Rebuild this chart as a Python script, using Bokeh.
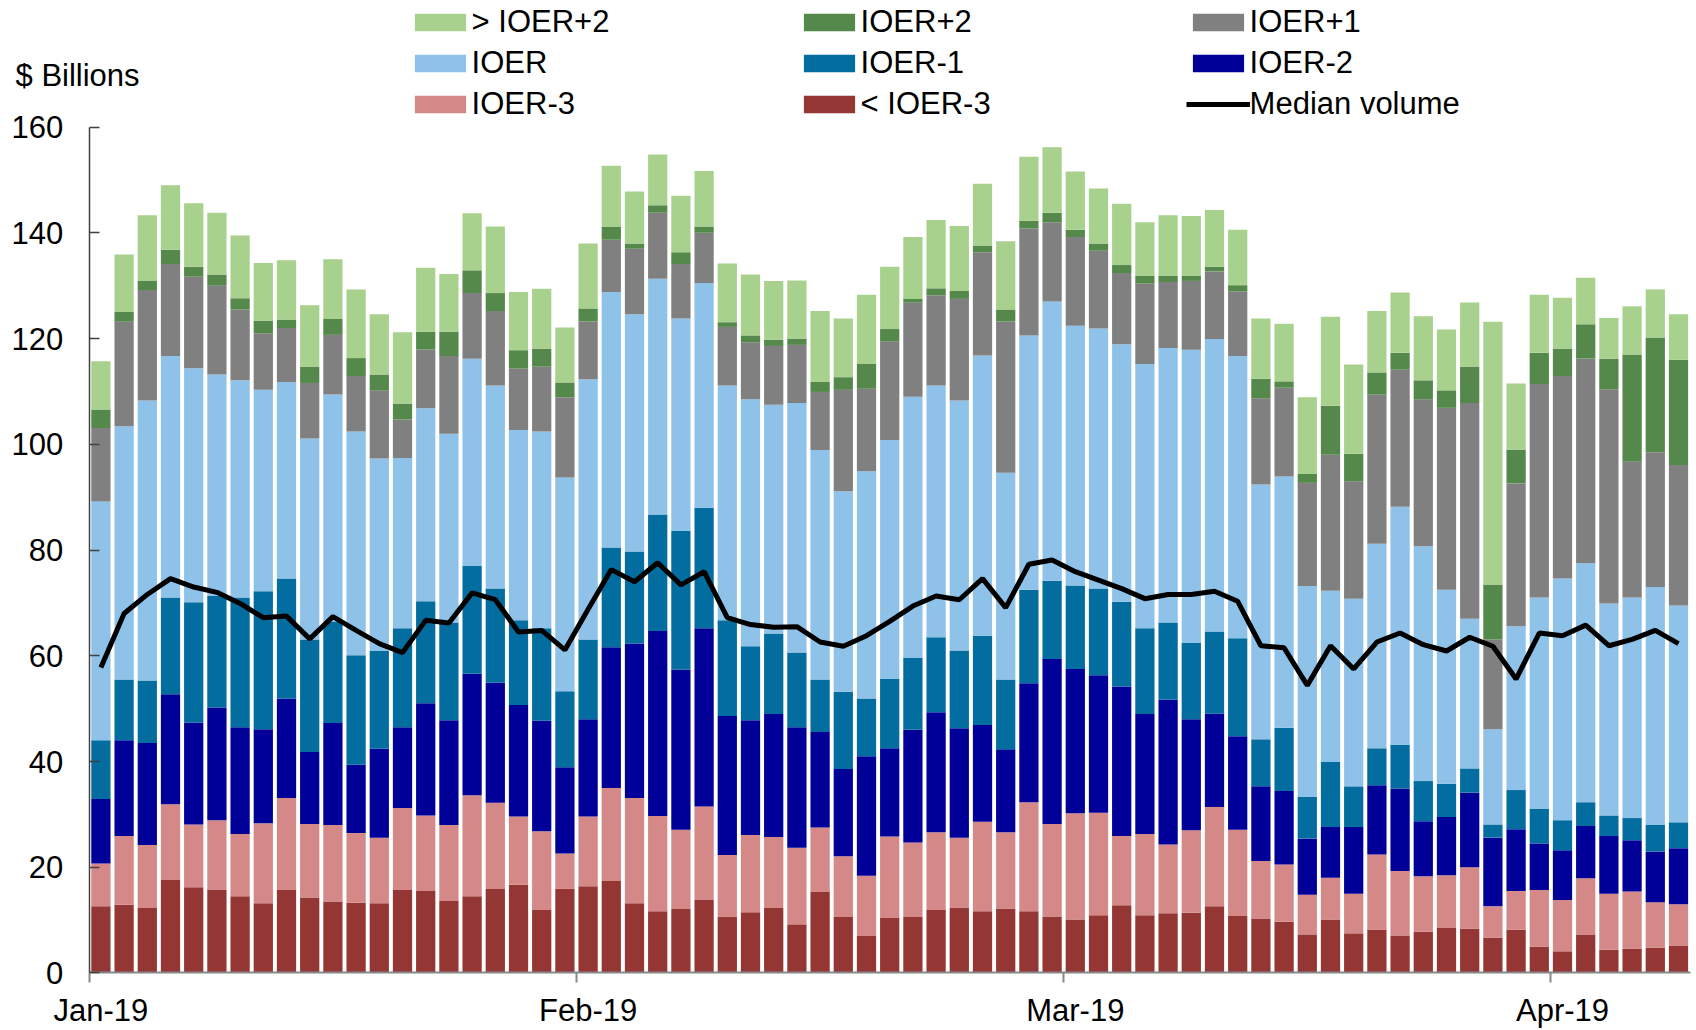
from bokeh.plotting import figure
from bokeh.models import ColumnDataSource, Legend, LegendItem, FixedTicker, Label, Range1d
from bokeh.embed import file_html
from bokeh.resources import INLINE

# ---- data (values in $ billions, one entry per business day) ----
days = list(range(69))
tick_positions = [0, 21, 42, 63]
tick_labels = ["Jan-19", "Feb-19", "Mar-19", "Apr-19"]
month_edges = [-0.5, 20.5, 41.5, 62.5]

lt_ioer_m3 = [12.6,12.9,12.3,17.6,16.2,15.8,14.5,13.2,15.7,14.3,
              13.5,13.3,13.2,15.7,15.5,13.6,14.5,15.9,16.7,11.9,
              15.9,16.4,17.4,13.2,11.7,12.1,13.8,10.7,11.5,12.3,
              9.2,15.3,10.6,7.0,10.4,10.6,11.9,12.4,11.7,12.2,
              11.7,10.7,10.1,10.9,12.8,10.9,11.3,11.4,12.6,10.8,
              10.2,9.7,7.3,10.1,7.5,8.2,7.1,7.8,8.5,8.4,
              6.7,8.2,5.0,4.1,7.2,4.4,4.6,4.8,5.2]
ioer_m3 = [8.1,13.0,11.9,14.3,11.9,13.1,11.8,15.1,17.4,13.9,
           14.5,13.2,12.4,15.5,14.3,14.4,19.1,16.3,12.9,14.9,
           6.7,13.2,17.6,19.9,18.0,15.0,17.7,11.6,14.6,13.4,
           14.5,12.2,11.5,11.4,15.4,14.1,14.7,13.2,16.9,14.4,
           20.6,17.5,20.1,19.4,13.1,15.4,13.0,15.6,18.8,16.3,
           11.0,10.8,7.5,7.9,7.5,14.2,12.2,10.5,10.0,11.6,
           5.9,7.3,10.7,9.7,10.7,10.6,10.8,8.6,7.8]
ioer_m2 = [12.2,18.1,19.3,20.8,19.3,21.3,20.2,17.8,18.8,13.6,
           19.3,12.9,16.8,15.3,21.2,19.8,23.0,22.7,21.1,20.9,
           16.3,18.4,26.6,29.2,35.0,30.3,33.7,26.3,21.7,23.3,
           22.8,18.1,16.5,22.6,16.7,21.3,22.7,20.7,18.3,15.7,
           22.5,31.2,27.3,26.0,28.3,22.7,27.4,21.0,17.7,17.7,
           14.1,13.9,10.6,9.6,12.6,13.1,15.6,10.4,11.0,14.1,
           13.0,11.7,8.8,9.4,9.9,10.9,9.7,9.6,10.6]
ioer_m1 = [11.1,11.5,11.8,18.3,22.7,21.1,24.5,26.1,22.7,21.3,
           19.1,20.7,18.5,18.7,19.3,18.5,20.4,17.8,16.0,17.5,
           14.4,15.1,18.9,17.4,22.0,26.2,22.8,18.1,14.0,15.2,
           14.1,9.9,14.6,10.9,13.1,13.6,14.2,14.7,16.9,13.2,
           17.7,14.8,15.8,16.4,16.0,16.2,14.6,14.4,15.5,18.5,
           8.9,12.0,7.9,12.3,7.7,7.0,8.3,7.6,6.3,4.6,
           2.5,7.4,6.6,5.7,4.5,3.9,4.2,5.0,4.9]
ioer = [45.2,47.9,53.0,45.7,44.3,41.9,41.1,38.1,37.2,38.0,
        43.0,42.3,36.4,32.2,36.5,35.7,39.2,38.4,36.0,37.2,
        40.4,49.2,48.3,44.9,44.6,40.2,42.5,44.4,46.7,43.3,
        47.2,43.4,37.9,43.0,45.2,49.4,47.6,47.3,53.0,39.1,
        48.1,52.8,49.1,49.2,48.7,50.0,51.9,55.5,55.3,53.4,
        48.2,47.5,39.9,32.4,35.5,38.7,45.0,44.4,36.7,28.3,
        18.0,31.0,39.9,45.7,45.2,40.1,41.7,45.0,41.0]
ioer_p1 = [13.9,19.8,20.9,17.4,17.3,16.8,13.4,10.7,10.2,10.5,
           11.3,10.5,12.9,7.3,11.1,14.7,12.4,14.1,11.6,12.3,
           15.2,10.9,9.9,12.4,12.5,10.3,9.5,11.1,10.8,11.1,
           11.0,11.0,19.2,15.6,18.6,17.8,17.1,19.2,19.5,28.6,
           20.2,15.0,16.8,14.7,13.5,15.2,12.5,13.0,12.8,12.2,
           16.3,16.8,19.5,25.7,22.2,28.2,25.9,27.8,34.4,40.8,
           17.0,27.0,40.4,38.3,38.7,40.5,25.7,25.5,26.6]
ioer_p2 = [3.5,1.8,1.8,2.7,1.9,2.1,2.1,2.4,1.6,3.1,
           3.0,3.4,3.0,3.0,3.4,4.6,4.3,3.4,3.5,3.4,
           2.8,2.5,2.4,1.0,1.4,2.2,1.2,0.9,1.3,1.2,
           1.2,1.9,2.4,4.7,2.4,0.7,1.3,1.5,1.3,2.3,
           1.5,1.8,1.4,1.4,1.5,1.5,1.2,1.0,0.9,1.2,
           3.7,1.2,1.7,9.3,5.2,4.2,3.2,3.6,3.3,6.9,
           10.4,6.4,5.9,5.2,6.5,5.8,20.3,21.7,19.9]
gt_ioer_p2 = [9.1,10.9,12.3,12.2,12.0,11.7,11.9,10.9,11.2,11.6,
              11.3,13.0,11.4,13.5,12.1,10.9,10.8,12.6,11.0,11.3,
              10.4,12.3,11.6,9.8,9.6,10.7,10.5,11.1,11.5,11.1,
              11.0,13.4,11.1,13.1,11.8,11.7,12.9,12.3,11.7,12.9,
              12.1,12.4,11.0,10.4,11.6,10.1,11.4,11.3,10.7,10.5,
              11.4,10.9,14.5,16.8,16.9,11.6,11.4,12.1,11.5,12.1,
              49.7,12.5,11.0,9.6,8.8,7.7,9.1,9.1,8.6]
median_volume = [57.8,68.0,71.6,74.6,73.0,72.0,69.9,67.2,67.5,63.2,
                 67.4,64.8,62.3,60.6,66.7,66.2,71.9,70.6,64.5,64.8,
                 61.1,68.8,76.3,74.0,77.6,73.4,75.9,67.2,65.9,65.4,
                 65.5,62.6,61.8,63.8,66.5,69.4,71.3,70.6,74.6,69.1,
                 77.3,78.1,75.9,74.3,72.7,70.8,71.6,71.6,72.2,70.3,
                 61.9,61.5,54.4,61.9,57.5,62.6,64.3,62.1,60.9,63.5,
                 61.8,55.6,64.3,63.8,65.8,61.9,63.1,64.8,62.3]

series_keys = ["lt_ioer_m3", "ioer_m3", "ioer_m2", "ioer_m1", "ioer", "ioer_p1", "ioer_p2", "gt_ioer_p2"]
series_names = ["< IOER-3", "IOER-3", "IOER-2", "IOER-1", "IOER", "IOER+1", "IOER+2", "> IOER+2"]
series_colors = ["#943634", "#D58888", "#000099", "#046DA0", "#8FC2E8", "#808080", "#55884B", "#A9D18E"]

source = ColumnDataSource(dict(
    x=days, lt_ioer_m3=lt_ioer_m3, ioer_m3=ioer_m3, ioer_m2=ioer_m2, ioer_m1=ioer_m1,
    ioer=ioer, ioer_p1=ioer_p1, ioer_p2=ioer_p2, gt_ioer_p2=gt_ioer_p2, median=median_volume))

FONT = "Liberation Sans"
FS = "31px"
W, H = 1694, 1028

# The frame fills the whole canvas; the axes are drawn at fixed data locations inside it,
# so that the legend and the unit label above the bars are not clipped.
p = figure(width=W, height=H,
           x_range=Range1d(-4.328, 68.69), y_range=Range1d(-10.50, 183.94),
           output_backend="svg", toolbar_location=None,
           min_border_left=0, min_border_right=0, min_border_top=0, min_border_bottom=0)
p.outline_line_color = None
p.xgrid.visible = False
p.ygrid.visible = False
p.background_fill_color = "white"

bars = p.vbar_stack(series_keys, x="x", width=0.83, fill_color=series_colors,
                    line_color=None, source=source)
med = p.line("x", "median", source=source, line_color="black", line_width=5)

# y axis
p.yaxis.fixed_location = -0.5
p.yaxis.bounds = (0, 160)
p.yaxis.ticker = FixedTicker(ticks=list(range(0, 161, 20)))
p.yaxis.major_tick_in = 10
p.yaxis.major_tick_out = 0
p.yaxis.minor_tick_in = 0
p.yaxis.minor_tick_out = 0
p.yaxis.major_label_standoff = 26
p.yaxis.axis_line_color = "#404040"
p.yaxis.axis_line_width = 1.5
p.yaxis.major_tick_line_color = "#404040"
p.yaxis.major_tick_line_width = 1.5
p.yaxis.major_label_text_font = FONT
p.yaxis.major_label_text_font_size = FS
p.yaxis.major_label_text_color = "black"

# x axis: labels centred on the first day of each month, tick marks at category edges
p.xaxis.fixed_location = 0
p.xaxis.bounds = (-0.5, 68.5)
p.xaxis.ticker = FixedTicker(ticks=tick_positions, minor_ticks=month_edges)
p.xaxis.major_label_overrides = {t: l for t, l in zip(tick_positions, tick_labels)}
p.xaxis.major_tick_line_color = None
p.xaxis.major_tick_in = 0
p.xaxis.major_tick_out = 0
p.xaxis.minor_tick_in = 0
p.xaxis.minor_tick_out = 10
p.xaxis.minor_tick_line_color = "#888888"
p.xaxis.minor_tick_line_width = 2
p.xaxis.axis_line_color = "#888888"
p.xaxis.axis_line_width = 2
p.xaxis.major_label_standoff = 10
p.xaxis.major_label_text_font = FONT
p.xaxis.major_label_text_font_size = FS
p.xaxis.major_label_text_color = "black"

r = dict(zip(series_names, bars))
order = ["> IOER+2", "IOER+2", "IOER+1", "IOER", "IOER-1", "IOER-2", "IOER-3", "< IOER-3"]
items = [LegendItem(label=name, renderers=[r[name]]) for name in order]
items.append(LegendItem(label="Median volume", renderers=[med]))
# location = (left edge, bottom edge) of the legend box, in px from the frame's bottom-left
legend = Legend(items=items, orientation="horizontal", ncols=3,
                location=(407.6, 906.0), glyph_width=64, glyph_height=22,
                label_standoff=0, label_width=320, label_height=35, spacing=5,
                padding=0, margin=0, border_line_color=None, background_fill_alpha=0,
                label_text_font=FONT, label_text_font_size=FS, label_text_color="black")
p.add_layout(legend)

p.add_layout(Label(x=-3.68, y=169.8, text="$ Billions", text_baseline="middle",
                   text_align="left", text_font=FONT, text_font_size=FS, text_color="black"))

open("out.html", "w").write(file_html(p, INLINE))
